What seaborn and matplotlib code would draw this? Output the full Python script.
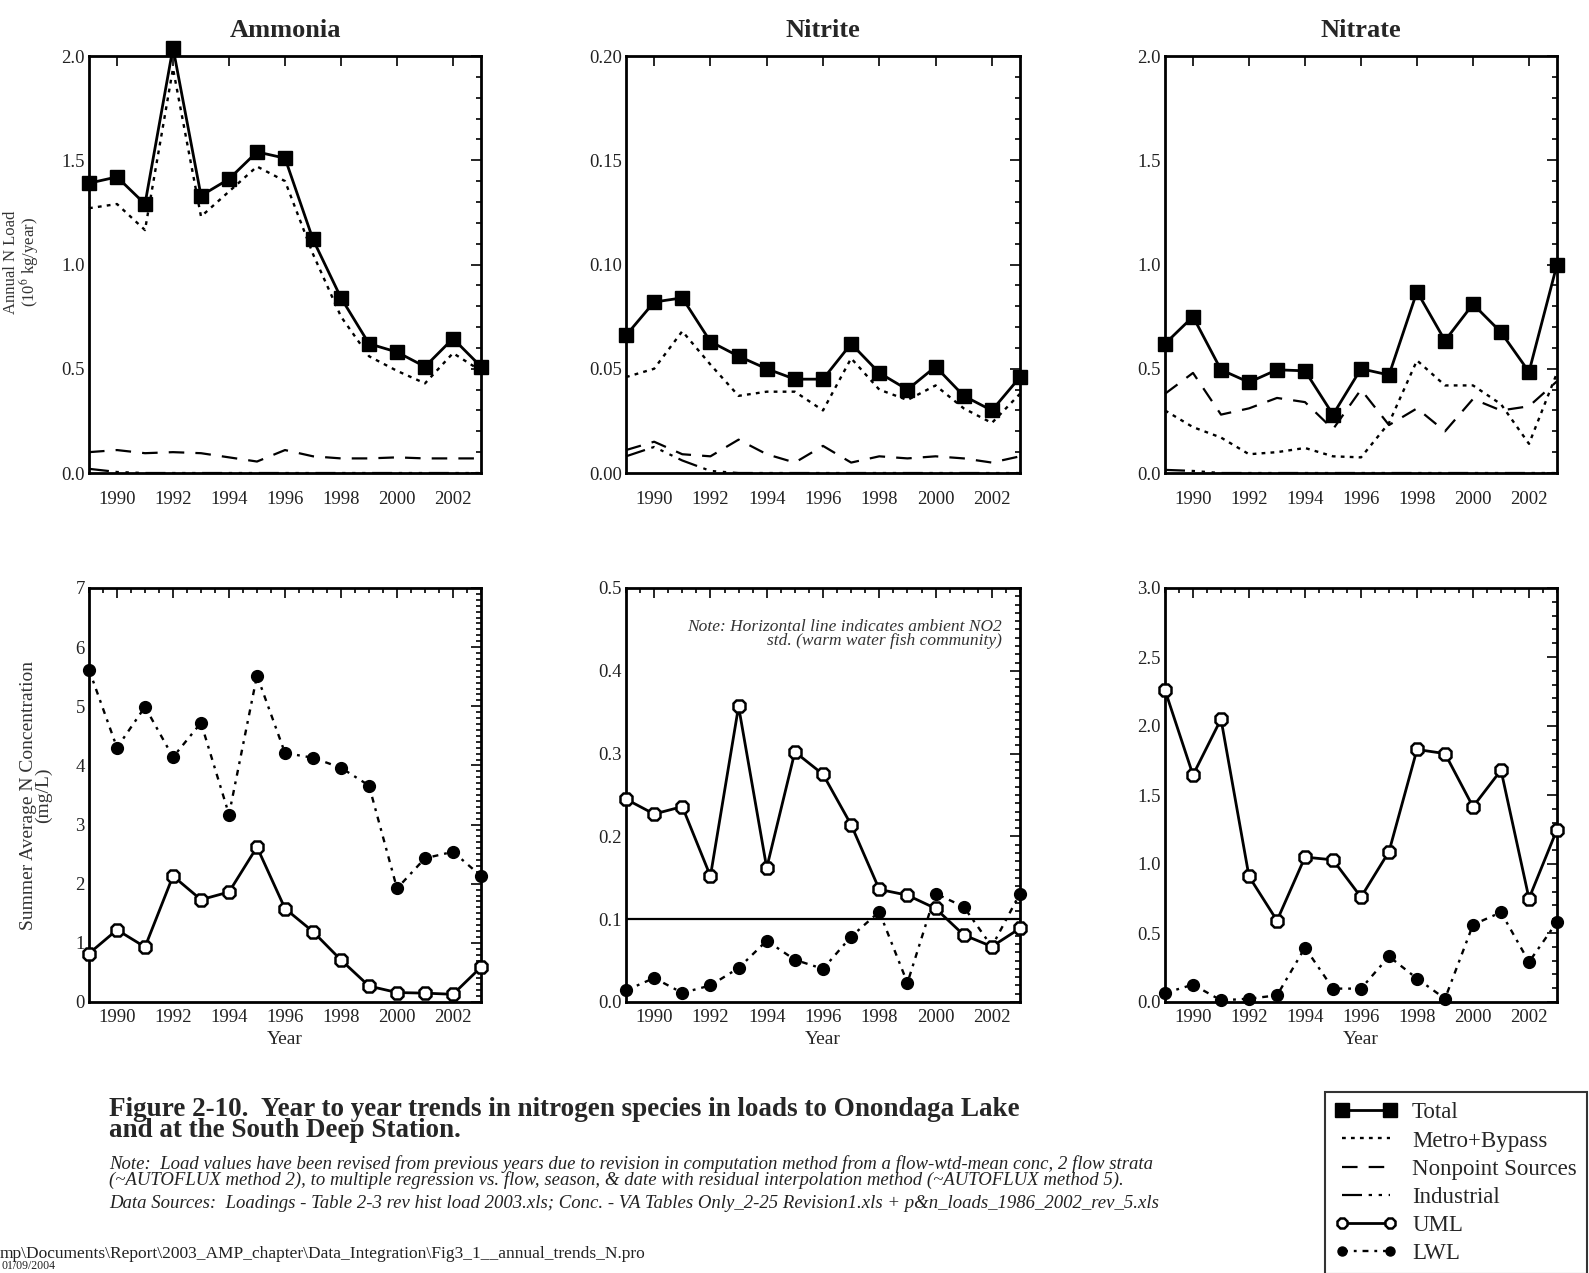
import matplotlib
matplotlib.use("Agg")
import matplotlib.pyplot as plt
import seaborn as sns
import pandas as pd
from matplotlib.ticker import MultipleLocator, FormatStrFormatter
from matplotlib.lines import Line2D

# ---------------- data ----------------
years = list(range(1989, 2004))

# Annual loads (10^6 kg/year)
amm_total = [1.39, 1.42, 1.29, 2.04, 1.33, 1.41, 1.54, 1.51, 1.12, 0.84, 0.62, 0.58, 0.51, 0.645, 0.51]
amm_metro = [1.27, 1.29, 1.165, 1.94, 1.23, 1.35, 1.47, 1.40, 1.05, 0.75, 0.56, 0.49, 0.43, 0.575, 0.49]
amm_nonpt = [0.10, 0.11, 0.095, 0.10, 0.095, 0.075, 0.055, 0.11, 0.08, 0.07, 0.07, 0.075, 0.07, 0.07, 0.07]
amm_indus = [0.02, 0.005, 0.0, 0.0, 0.0, 0.0, 0.0, 0.0, 0.0, 0.0, 0.0, 0.0, 0.0, 0.0, 0.0]

nii_total = [0.066, 0.082, 0.084, 0.063, 0.056, 0.050, 0.045, 0.045, 0.062, 0.048, 0.040, 0.051, 0.037, 0.030, 0.046]
nii_metro = [0.046, 0.050, 0.068, 0.052, 0.037, 0.039, 0.039, 0.030, 0.055, 0.040, 0.035, 0.042, 0.031, 0.024, 0.038]
nii_nonpt = [0.011, 0.015, 0.009, 0.008, 0.016, 0.009, 0.005, 0.013, 0.005, 0.008, 0.007, 0.008, 0.007, 0.005, 0.008]
nii_indus = [0.008, 0.0125, 0.006, 0.001, 0.0, 0.0, 0.0, 0.0, 0.0, 0.0, 0.0, 0.0, 0.0, 0.0, 0.0]

nia_total = [0.62, 0.75, 0.495, 0.435, 0.495, 0.49, 0.28, 0.50, 0.47, 0.87, 0.635, 0.81, 0.675, 0.485, 1.00]
nia_metro = [0.30, 0.22, 0.17, 0.09, 0.10, 0.12, 0.08, 0.075, 0.24, 0.54, 0.42, 0.42, 0.33, 0.14, 0.48]
nia_nonpt = [0.38, 0.48, 0.28, 0.31, 0.36, 0.34, 0.21, 0.40, 0.23, 0.31, 0.20, 0.355, 0.30, 0.32, 0.44]
nia_indus = [0.015, 0.01, 0.0, 0.0, 0.0, 0.0, 0.0, 0.0, 0.0, 0.0, 0.0, 0.0, 0.0, 0.0, 0.0]

# Summer average concentrations (mg/L)
amm_uml = [0.82, 1.22, 0.93, 2.13, 1.73, 1.86, 2.62, 1.58, 1.19, 0.71, 0.27, 0.16, 0.15, 0.13, 0.59]
amm_lwl = [5.62, 4.30, 4.99, 4.14, 4.72, 3.17, 5.52, 4.21, 4.13, 3.96, 3.66, 1.92, 2.43, 2.54, 2.13]

nii_uml = [0.245, 0.227, 0.236, 0.152, 0.357, 0.162, 0.302, 0.275, 0.214, 0.136, 0.129, 0.113, 0.081, 0.067, 0.089]
nii_lwl = [0.014, 0.029, 0.011, 0.020, 0.041, 0.074, 0.051, 0.040, 0.079, 0.109, 0.023, 0.131, 0.115, 0.067, 0.131]
no2_standard = 0.1

nia_uml = [2.26, 1.645, 2.05, 0.91, 0.59, 1.05, 1.03, 0.76, 1.09, 1.83, 1.80, 1.415, 1.68, 0.75, 1.25]
nia_lwl = [0.065, 0.126, 0.012, 0.024, 0.048, 0.394, 0.097, 0.097, 0.33, 0.17, 0.024, 0.56, 0.65, 0.29, 0.58]

titles = ["Ammonia", "Nitrite", "Nitrate"]
legend_labels = ["Total", "Metro+Bypass", "Nonpoint Sources", "Industrial", "UML", "LWL"]

# ---------------- style ----------------
sns.set_style("white")
plt.rcParams["font.family"] = ["Liberation Serif", "DejaVu Serif"]
plt.rcParams["mathtext.fontset"] = "stix"

W, H = 1589, 1273
fig = plt.figure(figsize=(W / 100, H / 100), dpi=100)


def add_ax(l, t, r, b):
    return fig.add_axes([l / W, 1 - b / H, (r - l) / W, (b - t) / H])


STY = {
    "total": dict(linestyle="-", linewidth=2.0, marker="s", markersize=9.5,
                  markerfacecolor="black", markeredgecolor="black", markeredgewidth=1),
    "metro": dict(linestyle=(0, (1.6, 2.2)), linewidth=1.7),
    "nonpt": dict(linestyle=(0, (7, 5)), linewidth=1.6),
    "indus": dict(linestyle=(0, (9, 3, 1.5, 3, 1.5, 3, 1.5, 3)), linewidth=1.6),
    "uml": dict(linestyle="-", linewidth=2.0, marker="8", markersize=10,
                markerfacecolor="white", markeredgecolor="black", markeredgewidth=1.8),
    "lwl": dict(linestyle=(0, (2.5, 2.5, 1.2, 2.5)), linewidth=1.7, marker="o", markersize=8.5,
                markerfacecolor="black", markeredgecolor="black", markeredgewidth=1),
}


def draw(ax, y, key, z=3):
    df = pd.DataFrame({"Year": years, "v": y})
    sns.lineplot(data=df, x="Year", y="v", ax=ax, color="black", clip_on=False,
                 zorder=z, **STY[key])


def style_ax(ax, ymax, ymaj, ymin, fmt, xminor, xpad):
    ax.set_xlim(1989, 2003)
    ax.set_ylim(0, ymax)
    ax.xaxis.set_major_locator(MultipleLocator(2))
    if xminor:
        ax.xaxis.set_minor_locator(MultipleLocator(0.5))
    ax.yaxis.set_major_locator(MultipleLocator(ymaj))
    ax.yaxis.set_minor_locator(MultipleLocator(ymin))
    ax.yaxis.set_major_formatter(FormatStrFormatter(fmt))
    ax.tick_params(which="both", direction="in", top=True, right=True,
                   labelsize=13.5, labelcolor="#222222", width=1.4)
    ax.tick_params(axis="y", pad=3)
    ax.tick_params(axis="x", pad=xpad)
    ax.tick_params(which="major", length=7)
    ax.tick_params(which="minor", length=3.5)
    for s in ax.spines.values():
        s.set_linewidth(2)
        s.set_color("black")
    ax.set_ylabel("")
    ax.set_xlabel("")


cols = [(89, 481), (626, 1020), (1165, 1557)]
top_row = [add_ax(l, 56, r, 473) for l, r in cols]
bot_row = [add_ax(l, 588, r, 1002) for l, r in cols]

loads = [
    (amm_total, amm_metro, amm_nonpt, amm_indus),
    (nii_total, nii_metro, nii_nonpt, nii_indus),
    (nia_total, nia_metro, nia_nonpt, nia_indus),
]
top_scales = [(2.0, 0.5, 0.1, "%.1f"), (0.20, 0.05, 0.01, "%.2f"), (2.0, 0.5, 0.1, "%.1f")]

for ax, (tot, met, nps, ind), sc, title in zip(top_row, loads, top_scales, titles):
    draw(ax, ind, "indus", 2)
    draw(ax, nps, "nonpt", 2)
    draw(ax, met, "metro", 2)
    draw(ax, tot, "total", 4)
    style_ax(ax, *sc, xminor=False, xpad=13)
    ax.set_title(title, fontsize=19, fontweight="bold", pad=14)

concs = [(amm_uml, amm_lwl), (nii_uml, nii_lwl), (nia_uml, nia_lwl)]
bot_scales = [(7, 1, 0.1, "%d"), (0.5, 0.1, 0.01, "%.1f"), (3.0, 0.5, 0.1, "%.1f")]
for ax, (uml, lwl), sc in zip(bot_row, concs, bot_scales):
    draw(ax, lwl, "lwl", 3)
    draw(ax, uml, "uml", 4)
    style_ax(ax, *sc, xminor=True, xpad=5)
    ax.set_xlabel("Year", fontsize=14, labelpad=4)

bot_row[1].axhline(no2_standard, color="black", linewidth=1.6, zorder=2)
bot_row[1].text(0.955, 0.925, "Note: Horizontal line indicates ambient NO2\nstd. (warm water fish community)",
                transform=bot_row[1].transAxes, ha="right", va="top", fontsize=12.5,
                style="italic", color="#333333", linespacing=0.82)

# axis titles
fig.text(22 / W, 1 - 262 / H, "Annual N Load\n(10$^6$ kg/year)", rotation=90, ha="center",
         va="center", fontsize=12, color="#333333", linespacing=0.85)
fig.text(36 / W, 1 - 795 / H, "Summer Average N Concentration\n(mg/L)", rotation=90, ha="center",
         va="center", fontsize=14, color="#333333", linespacing=0.88)

# caption
fig.text(109 / W, 1 - 1120 / H,
         "Figure 2-10.  Year to year trends in nitrogen species in loads to Onondaga Lake\nand at the South Deep Station.",
         ha="left", va="center", fontsize=19.5, fontweight="bold", linespacing=0.8)
fig.text(109 / W, 1 - 1172 / H,
         "Note:  Load values have been revised from previous years due to revision in computation method from a flow-wtd-mean conc, 2 flow strata\n"
         "(~AUTOFLUX method 2), to multiple regression vs. flow, season, & date with residual interpolation method (~AUTOFLUX method 5).",
         ha="left", va="center", fontsize=13.5, style="italic", color="#222222", linespacing=0.86)
fig.text(109 / W, 1 - 1203 / H,
         "Data Sources:  Loadings - Table 2-3 rev hist load 2003.xls; Conc. - VA Tables Only_2-25 Revision1.xls + p&n_loads_1986_2002_rev_5.xls",
         ha="left", va="center", fontsize=13.5, style="italic", color="#222222")
fig.text(0, 1 - 1254 / H,
         "mp\\Documents\\Report\\2003_AMP_chapter\\Data_Integration\\Fig3_1__annual_trends_N.pro",
         ha="left", va="center", fontsize=12.5, color="#222222")
fig.text(2 / W, 1 - 1266 / H, "01/09/2004", ha="left", va="center", fontsize=8.5, color="#222222")

# legend
handles = [
    Line2D([], [], color="black", **STY["total"]),
    Line2D([], [], color="black", **STY["metro"]),
    Line2D([], [], color="black", **STY["nonpt"]),
    Line2D([], [], color="black", **STY["indus"]),
    Line2D([], [], color="black", **{**STY["uml"], "markersize": 8}),
    Line2D([], [], color="black", **{**STY["lwl"], "markersize": 6.5}),
]
leg = fig.legend(handles, legend_labels, loc="upper left",
                 bbox_to_anchor=(1325 / W, 1 - 1092 / H), numpoints=2, handlelength=2.7,
                 fontsize=16.5, frameon=True, fancybox=False, edgecolor="black",
                 labelspacing=0.31, borderpad=0.45, handletextpad=0.65, borderaxespad=0)
leg.get_frame().set_linewidth(1.5)

fig.savefig("out.png", dpi=100, facecolor="white")
